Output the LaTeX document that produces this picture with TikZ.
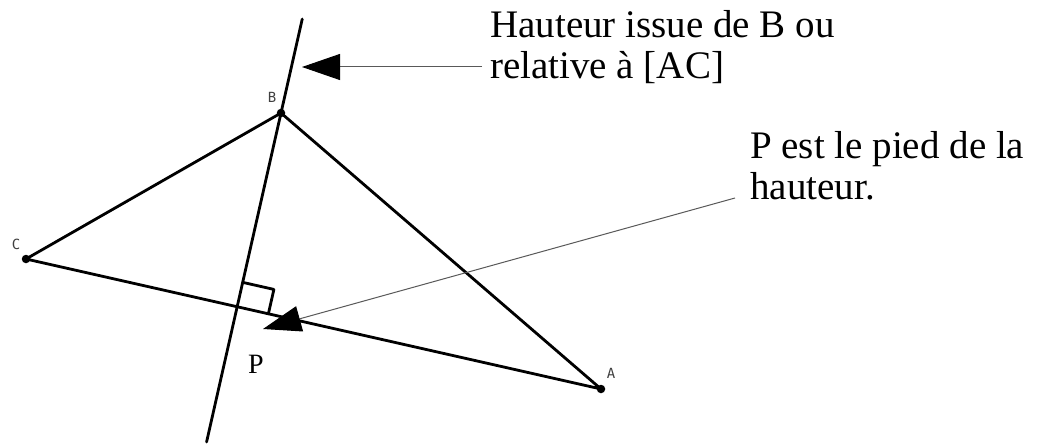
\documentclass[tikz,border=0pt]{standalone}
\usepackage{fontspec}
\setmainfont{Liberation Serif}
\newfontfamily\vertfont{DejaVu Sans Mono}
\usetikzlibrary{arrows.meta,calc}
\begin{document}
\begin{tikzpicture}[x=1pt,y=1pt,
  side/.style={line width=2.8pt,line join=round,line cap=round},
  vdot/.style={circle,fill=black,inner sep=0pt,minimum size=8.5pt},
  vlabel/.style={font=\vertfont\fontsize{14}{14}\selectfont,text=black!75,inner sep=0pt},
  callout/.style={font=\fontsize{39}{41}\selectfont,inner sep=0pt,anchor=base west},
  pointer/.style={line width=1pt,draw=black!65,-{Triangle[length=38pt,width=26pt,color=black]}},
]
\useasboundingbox (0,0) rectangle (1053,-444);
\fill[white] (0,0) rectangle (1053,-444);

% triangle vertices
\node[vdot] (B) at (281,-113) {};
\node[vdot] (C) at (26,-259) {};
\node[vdot] (A) at (601,-389) {};
\draw[side] (B.center) -- (C.center) -- (A.center) -- cycle;

% altitude from B
\coordinate (P) at ($(C)!(B)!(A)$);
\coordinate (T) at ($(P)!1.485!(B)$);
\coordinate (U) at ($(P)!-0.698!(B)$);
\draw[side] (T) -- (U);

% right angle mark
\coordinate (r1) at ($(P)!25pt!(B)$);
\coordinate (r3) at ($(P)!32pt!(A)$);
\draw[side] (r1) -- ($(r1)+(r3)-(P)$) -- (r3);

% vertex labels
\node[vlabel] (lB) at (272,-97) {B};
\node[vlabel] (lC) at (16,-244) {C};
\node[vlabel] (lA) at (611,-373) {A};
\node[font=\fontsize{28}{28}\selectfont,inner sep=0pt,anchor=base west] (lP) at (248,-373) {P};

% callouts
\node[callout] (h1) at (490,-38) {\begin{tabular}[t]{@{}l@{}}Hauteur issue de B ou\\relative à [AC]\end{tabular}};
\node[callout] (h2) at (750,-158) {\begin{tabular}[t]{@{}l@{}}P est le pied de la\\hauteur.\end{tabular}};

\coordinate (s1) at (482,-67);
\coordinate (e1) at (302,-67);
\draw[pointer] (s1) -- (e1);
\coordinate (s2) at (735,-198);
\coordinate (e2) at (263,-329);
\draw[pointer] (s2) -- (e2);
\end{tikzpicture}
\end{document}
